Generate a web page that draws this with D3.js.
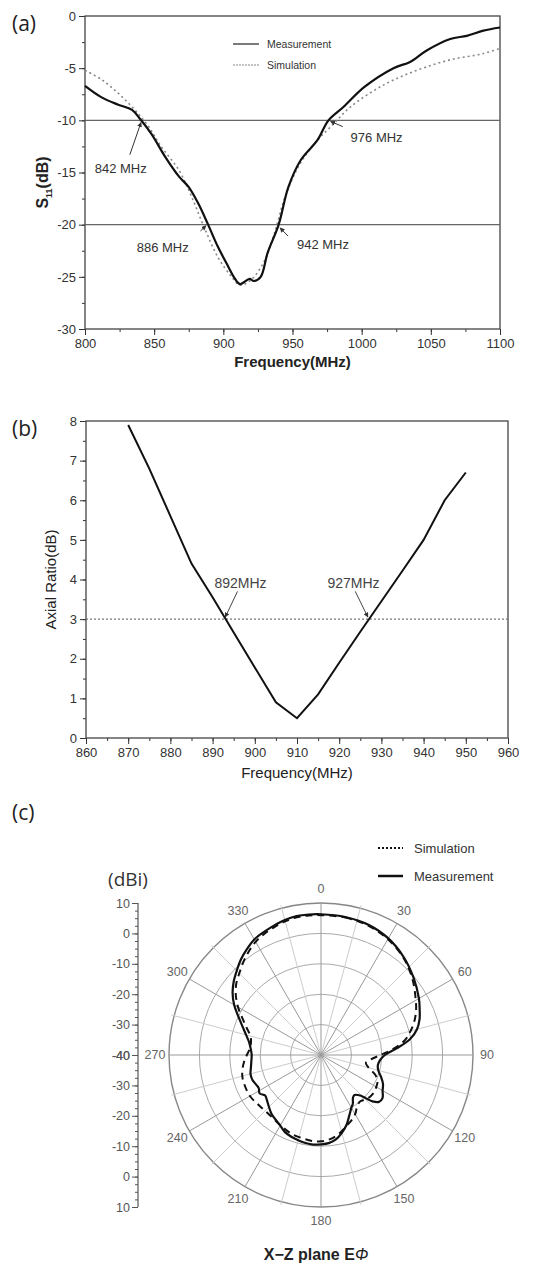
<!DOCTYPE html>
<html>
<head>
<meta charset="utf-8">
<script src="https://cdn.jsdelivr.net/npm/d3@7"></script>
<style>
  body { margin: 0; background: #fff; }
  svg { font-family: "Liberation Sans", Arial, sans-serif; }
</style>
</head>
<body>
<svg id="chart" width="534" height="1266"></svg>
<script>
// (a) S11
const s11MeasFreq = [800, 812, 824, 834, 840, 848, 858, 868, 875, 882, 889, 896, 903.5, 908, 912, 919, 922, 927, 932, 940, 947, 956, 968, 976, 987, 1002, 1023, 1035, 1047, 1064, 1076, 1088, 1100]
const s11MeasDb = [-6.7, -7.8, -8.5, -9.0, -9.9, -11.3, -13.5, -15.4, -16.4, -18, -20, -22.1, -24, -25.1, -25.7, -25.2, -25.4, -25, -22.7, -20, -16.4, -13.8, -11.9, -10, -8.7, -6.8, -5, -4.4, -3.3, -2.2, -1.9, -1.4, -1.1]
const s11SimFreq = [800, 812, 824, 836, 846, 855, 868, 877, 886, 896, 906, 912, 920, 930, 937, 944, 954, 966, 980, 992, 1016, 1040, 1064, 1088, 1100]
const s11SimDb = [-5.2, -6.1, -7.4, -9.0, -10.6, -12.5, -14.8, -17.3, -20.2, -23.1, -25, -25.8, -25.3, -23.4, -20.8, -17.6, -14.5, -12.2, -10.3, -8.7, -6.6, -5.2, -4.2, -3.6, -3.1]
const s11RefLines = [-10, -20]
const s11XTicks = [800, 850, 900, 950, 1000, 1050, 1100]
const s11YTicks = [0, -5, -10, -15, -20, -25, -30]
const s11Notes = [
  { text: '842 MHz', tx: 807, ty: -14.6, from: [832.4, -13.3], to: [840.5, -10.2] },
  { text: '976 MHz', tx: 992, ty: -11.6, from: [986.3, -10.6], to: [977.5, -10.1] },
  { text: '886 MHz', tx: 837.4, ty: -22.1, from: [883.5, -20.6], to: [887.5, -20.1] },
  { text: '942 MHz', tx: 953.2, ty: -21.9, from: [946.8, -21.1], to: [941, -20.3] }
]

// (b) axial ratio
const arFreq = [870, 875, 880, 885, 890, 895, 900, 905, 910, 915, 920, 925, 930, 935, 940, 945, 950]
const arDb = [7.9, 6.8, 5.6, 4.4, 3.55, 2.66, 1.78, 0.9, 0.5, 1.1, 1.9, 2.68, 3.45, 4.22, 5.0, 6.0, 6.7]
const arRefLine = 3
const arXTicks = [860, 870, 880, 890, 900, 910, 920, 930, 940, 950, 960]
const arYTicks = [0, 1, 2, 3, 4, 5, 6, 7, 8]
const arNotes = [
  { text: '892MHz', tx: 896.6, ty: 3.9, from: [895.9, 3.7], to: [893, 3.05] },
  { text: '927MHz', tx: 923.4, ty: 3.9, from: [923.8, 3.7], to: [926.8, 3.05] }
]

// (c) radiation pattern, X-Z plane
const measAngle = [0, 10, 20, 30, 40, 50, 60, 65, 70, 75, 80, 85, 90, 95, 100, 105, 110, 115, 120, 125, 129, 132, 136, 140, 143, 147, 150, 155, 160, 165, 170, 175, 180, 185, 190, 195, 200, 205, 210, 215, 220, 225, 230, 234, 238, 242, 245, 250, 255, 260, 265, 270, 275, 280, 285, 290, 295, 300, 305, 310, 315, 320, 325, 330, 335, 340, 345, 350, 355]
const measGain = [6.3, 6.1, 5.6, 4.3, 2.2, -0.3, -2.8, -4.2, -5.5, -7.3, -10.3, -15, -19, -20.5, -21, -20.5, -19, -17.5, -16.6, -15.3, -15.5, -17.2, -21.5, -22.8, -22.5, -20.8, -20, -18, -15.5, -13.5, -11.8, -10.9, -10.6, -10.4, -10.6, -11, -11.4, -12, -13.2, -14, -14.7, -15.8, -16.8, -17.3, -16.2, -16.8, -16.6, -16, -16, -16.6, -17, -17.2, -16.8, -16, -14.5, -12.5, -10, -7, -4.5, -2.5, -0.8, 1.0, 2.5, 3.9, 4.6, 5.3, 6.0, 6.4, 6.4]
const simAngle = [0, 10, 20, 30, 40, 50, 60, 65, 70, 75, 80, 85, 90, 95, 100, 105, 110, 115, 120, 125, 130, 135, 140, 145, 150, 155, 160, 165, 170, 175, 180, 185, 190, 200, 210, 220, 230, 240, 250, 255, 260, 265, 270, 275, 280, 285, 290, 295, 300, 305, 310, 315, 320, 325, 330, 335, 340, 345, 350, 355]
const simGain = [6.0, 5.9, 5.3, 4.0, 2.0, -0.8, -4.0, -5.5, -7.3, -9.5, -12, -16, -20.4, -23.5, -25, -23.8, -21, -19.5, -19, -18.7, -18.8, -19.3, -20, -19.3, -17.5, -16.3, -15.3, -14, -12.8, -12, -11.6, -11.5, -11.8, -12.3, -13.3, -14, -13.8, -13, -13, -13.2, -13.8, -14.6, -15.6, -16.5, -16.6, -16, -14, -11.5, -8.5, -5.8, -3.6, -2, -0.2, 1.5, 3.0, 4.0, 4.8, 5.5, 6.0, 6.1]
const polarRings = [-30, -20, -10, 0, 10]
const polarSpokes = [0, 30, 60, 90, 120, 150, 180, 210, 240, 270, 300, 330]
const polarMinorSpokes = [15, 45, 75, 105, 135, 165, 195, 225, 255, 285, 315, 345]
const polarAxisTicks = [10, 0, -10, -20, -30, -40]

const svg = d3.select('#chart')
const ink = '#222'

svg.append('marker')
  .attr('id', 'arrow')
  .attr('viewBox', '0 0 10 10')
  .attr('refX', 9).attr('refY', 5)
  .attr('markerWidth', 5).attr('markerHeight', 5)
  .attr('orient', 'auto')
  .append('path')
  .attr('d', 'M0,0 L10,5 L0,10 z')
  .attr('fill', '#333')

function panelLabel(text, x, y) {
  svg.append('text').text(text)
    .attr('x', x).attr('y', y)
    .attr('font-family', '"Open Sans", sans-serif')
    .attr('font-size', 21).attr('fill', ink)
}

function styleAxis(g, size) {
  g.select('.domain').remove()
  g.selectAll('line').attr('stroke', '#333')
  g.selectAll('text').attr('font-size', size).attr('fill', '#333')
    .attr('font-family', '"Liberation Sans", Arial, sans-serif')
}

// ---------- (a) ----------
const a = { left: 85, right: 500, top: 16, bottom: 329 }
const xA = d3.scaleLinear().domain([800, 1100]).range([a.left, a.right])
const yA = d3.scaleLinear().domain([-30, 0]).range([a.bottom, a.top])

panelLabel('(a)', 12, 31)

const gA = svg.append('g')
gA.append('g').attr('transform', `translate(${a.left},0)`)
  .call(d3.axisLeft(yA).tickValues(d3.range(-30, 0.1, 2.5)).tickSize(3).tickFormat(''))
  .call(g => styleAxis(g, 13))
gA.append('g').attr('transform', `translate(${a.left},0)`)
  .call(d3.axisLeft(yA).tickValues(s11YTicks).tickSize(6).tickPadding(3).tickFormat(d => String(d)))
  .call(g => styleAxis(g, 13))
gA.append('g').attr('transform', `translate(0,${a.bottom})`)
  .call(d3.axisBottom(xA).tickValues(d3.range(800, 1101, 25)).tickSize(3).tickFormat(''))
  .call(g => styleAxis(g, 13))
gA.append('g').attr('transform', `translate(0,${a.bottom})`)
  .call(d3.axisBottom(xA).tickValues(s11XTicks).tickSize(6).tickPadding(4).tickFormat(d => String(d)))
  .call(g => styleAxis(g, 13))

gA.append('rect')
  .attr('x', a.left).attr('y', a.top)
  .attr('width', a.right - a.left).attr('height', a.bottom - a.top)
  .attr('fill', 'none').attr('stroke', '#444').attr('stroke-width', 1.3)

gA.selectAll('.ref')
  .data(s11RefLines)
  .enter()
  .append('line')
  .attr('x1', a.left).attr('x2', a.right)
  .attr('y1', d => yA(d)).attr('y2', d => yA(d))
  .attr('stroke', '#666').attr('stroke-width', 1.3)

const lineA = d3.line().x(d => xA(d[0])).y(d => yA(d[1])).curve(d3.curveCatmullRom)
gA.append('path')
  .datum(s11SimFreq.map((f, i) => [f, s11SimDb[i]]))
  .attr('d', lineA)
  .attr('fill', 'none').attr('stroke', '#888').attr('stroke-width', 1.6)
  .attr('stroke-dasharray', '2,3')
gA.append('path')
  .datum(s11MeasFreq.map((f, i) => [f, s11MeasDb[i]]))
  .attr('d', lineA)
  .attr('fill', 'none').attr('stroke', '#111').attr('stroke-width', 2.2)

s11Notes.forEach(n => {
  gA.append('text').text(n.text)
    .attr('x', xA(n.tx)).attr('y', yA(n.ty) + 5)
    .attr('font-size', 13).attr('fill', '#333')
  gA.append('line')
    .attr('x1', xA(n.from[0])).attr('y1', yA(n.from[1]))
    .attr('x2', xA(n.to[0])).attr('y2', yA(n.to[1]))
    .attr('stroke', '#333').attr('stroke-width', 1)
    .attr('marker-end', 'url(#arrow)')
})

// legend (a)
const legA = gA.append('g').attr('transform', 'translate(233,44)')
legA.append('line').attr('x1', 0).attr('x2', 26).attr('y1', 0).attr('y2', 0)
  .attr('stroke', '#222').attr('stroke-width', 1.2)
legA.append('text').text('Measurement').attr('x', 34).attr('y', 4)
  .attr('font-size', 10.5).attr('fill', '#333')
legA.append('line').attr('x1', 0).attr('x2', 26).attr('y1', 21).attr('y2', 21)
  .attr('stroke', '#888').attr('stroke-width', 1).attr('stroke-dasharray', '2,1')
legA.append('text').text('Simulation').attr('x', 34).attr('y', 25)
  .attr('font-size', 10.5).attr('fill', '#333')

gA.append('text').text('Frequency(MHz)')
  .attr('x', (a.left + a.right) / 2).attr('y', 367)
  .attr('text-anchor', 'middle').attr('font-size', 15).attr('font-weight', 'bold').attr('fill', '#222')
const yTitleA = gA.append('text')
  .attr('transform', `translate(48,${(a.top + a.bottom) / 2 + 10}) rotate(-90)`)
  .attr('text-anchor', 'middle').attr('font-size', 16).attr('font-weight', 'bold').attr('fill', '#222')
yTitleA.append('tspan').text('S')
yTitleA.append('tspan').text('11').attr('font-size', 9).attr('dy', 4)
yTitleA.append('tspan').text('(dB)').attr('dy', -4)

// ---------- (b) ----------
const b = { left: 86, right: 508, top: 421, bottom: 738 }
const xB = d3.scaleLinear().domain([860, 960]).range([b.left, b.right])
const yB = d3.scaleLinear().domain([0, 8]).range([b.bottom, b.top])

panelLabel('(b)', 12, 436)

const gB = svg.append('g')
gB.append('g').attr('transform', `translate(${b.left},0)`)
  .call(d3.axisLeft(yB).tickValues(d3.range(0, 8.01, 0.5)).tickSize(3).tickFormat(''))
  .call(g => styleAxis(g, 13))
gB.append('g').attr('transform', `translate(${b.left},0)`)
  .call(d3.axisLeft(yB).tickValues(arYTicks).tickSize(6).tickPadding(3).tickFormat(d => String(d)))
  .call(g => styleAxis(g, 13))
gB.append('g').attr('transform', `translate(0,${b.bottom})`)
  .call(d3.axisBottom(xB).tickValues(d3.range(860, 961, 5)).tickSize(3).tickFormat(''))
  .call(g => styleAxis(g, 13))
gB.append('g').attr('transform', `translate(0,${b.bottom})`)
  .call(d3.axisBottom(xB).tickValues(arXTicks).tickSize(6).tickPadding(4).tickFormat(d => String(d)))
  .call(g => styleAxis(g, 13))

gB.append('rect')
  .attr('x', b.left).attr('y', b.top)
  .attr('width', b.right - b.left).attr('height', b.bottom - b.top)
  .attr('fill', 'none').attr('stroke', '#444').attr('stroke-width', 1.3)

gB.append('line')
  .attr('x1', b.left).attr('x2', b.right)
  .attr('y1', yB(arRefLine)).attr('y2', yB(arRefLine))
  .attr('stroke', '#777').attr('stroke-width', 1.2).attr('stroke-dasharray', '2,2')

gB.append('path')
  .datum(arFreq.map((f, i) => [f, arDb[i]]))
  .attr('d', d3.line().x(d => xB(d[0])).y(d => yB(d[1])))
  .attr('fill', 'none').attr('stroke', '#111').attr('stroke-width', 2)

arNotes.forEach(n => {
  gB.append('text').text(n.text)
    .attr('x', xB(n.tx)).attr('y', yB(n.ty) + 5)
    .attr('text-anchor', 'middle').attr('font-size', 14).attr('fill', '#444')
  gB.append('line')
    .attr('x1', xB(n.from[0])).attr('y1', yB(n.from[1]))
    .attr('x2', xB(n.to[0])).attr('y2', yB(n.to[1]))
    .attr('stroke', '#444').attr('stroke-width', 1)
    .attr('marker-end', 'url(#arrow)')
})

gB.append('text').text('Frequency(MHz)')
  .attr('x', (b.left + b.right) / 2).attr('y', 778)
  .attr('text-anchor', 'middle').attr('font-size', 15).attr('fill', '#222')
gB.append('text').text('Axial Ratio(dB)')
  .attr('transform', `translate(56,${(b.top + b.bottom) / 2}) rotate(-90)`)
  .attr('text-anchor', 'middle').attr('font-size', 15).attr('fill', '#222')

// ---------- (c) ----------
const cx = 321, cy = 1055, R = 152
const rC = d3.scaleLinear().domain([-40, 10]).range([0, R])
const toRad = deg => deg * Math.PI / 180

panelLabel('(c)', 12, 820)

const gC = svg.append('g').attr('transform', `translate(${cx},${cy})`)

gC.selectAll('.ring')
  .data(polarRings)
  .enter()
  .append('circle')
  .attr('r', d => rC(d))
  .attr('fill', 'none')
  .attr('stroke', d => d === 10 ? '#888' : '#aaa')
  .attr('stroke-width', d => d === 10 ? 1.4 : 1)

gC.selectAll('.minor-spoke')
  .data(polarMinorSpokes)
  .enter()
  .append('line')
  .attr('x1', 0).attr('y1', 0)
  .attr('x2', d => Math.sin(toRad(d)) * (R + 3))
  .attr('y2', d => -Math.cos(toRad(d)) * (R + 3))
  .attr('stroke', '#ccc').attr('stroke-width', 1)

gC.selectAll('.spoke')
  .data(polarSpokes)
  .enter()
  .append('line')
  .attr('x1', 0).attr('y1', 0)
  .attr('x2', d => Math.sin(toRad(d)) * R)
  .attr('y2', d => -Math.cos(toRad(d)) * R)
  .attr('stroke', '#999').attr('stroke-width', 1)

gC.selectAll('.angle-label')
  .data(polarSpokes)
  .enter()
  .append('text')
  .text(d => d)
  .attr('x', d => Math.sin(toRad(d)) * 166)
  .attr('y', d => -Math.cos(toRad(d)) * 166 + 4)
  .attr('text-anchor', 'middle')
  .attr('font-size', 12.5).attr('fill', '#666')

const radial = d3.lineRadial()
  .angle(d => toRad(d[0]))
  .radius(d => rC(d[1]))
  .curve(d3.curveCatmullRomClosed.alpha(0.5))

gC.append('path')
  .datum(simAngle.map((t, i) => [t, simGain[i]]))
  .attr('d', radial)
  .attr('fill', 'none').attr('stroke', '#111').attr('stroke-width', 2)
  .attr('stroke-dasharray', '7,5')
gC.append('path')
  .datum(measAngle.map((t, i) => [t, measGain[i]]))
  .attr('d', radial)
  .attr('fill', 'none').attr('stroke', '#111').attr('stroke-width', 2.2)

// mirrored radial axis on the left
const axisX = 138
const upper = d3.scaleLinear().domain([-40, 10]).range([cy, cy - R])
const lower = d3.scaleLinear().domain([-40, 10]).range([cy, cy + R])
const gAx = svg.append('g')
gAx.append('line').attr('x1', axisX).attr('x2', axisX)
  .attr('y1', cy - R).attr('y2', cy + R).attr('stroke', '#555').attr('stroke-width', 1.2)
;[upper, lower].forEach(sc => {
  gAx.append('g').attr('transform', `translate(${axisX},0)`)
    .call(d3.axisLeft(sc).tickValues(d3.range(-40, 10.01, 2.5)).tickSize(3).tickFormat(''))
    .call(g => styleAxis(g, 12.5))
  gAx.append('g').attr('transform', `translate(${axisX},0)`)
    .call(d3.axisLeft(sc).tickValues(polarAxisTicks).tickSize(6).tickPadding(2).tickFormat(d => String(d)))
    .call(g => styleAxis(g, 12.5))
})
gAx.selectAll('line').attr('stroke', '#555')
gAx.selectAll('text').attr('fill', '#555')

svg.append('text').text('(dBi)')
  .attr('x', 128).attr('y', 886)
  .attr('text-anchor', 'middle')
  .attr('font-family', '"Open Sans", sans-serif')
  .attr('font-size', 19).attr('fill', '#333')

// legend (c)
const legC = svg.append('g').attr('transform', 'translate(378,848)')
legC.append('line').attr('x1', 0).attr('x2', 25).attr('y1', 0).attr('y2', 0)
  .attr('stroke', '#111').attr('stroke-width', 2).attr('stroke-dasharray', '2,2')
legC.append('text').text('Simulation').attr('x', 36).attr('y', 5)
  .attr('font-size', 13).attr('fill', '#333')
legC.append('line').attr('x1', 0).attr('x2', 25).attr('y1', 28).attr('y2', 28)
  .attr('stroke', '#111').attr('stroke-width', 2.5)
legC.append('text').text('Measurement').attr('x', 36).attr('y', 33)
  .attr('font-size', 13).attr('fill', '#333')

const titleC = svg.append('text')
  .attr('x', 316).attr('y', 1260)
  .attr('text-anchor', 'middle')
  .attr('font-size', 16).attr('font-weight', 'bold').attr('fill', '#222')
titleC.append('tspan').text('X\u2212Z plane E')
titleC.append('tspan').text('\u03A6').attr('font-style', 'italic').attr('font-weight', 'normal')
</script>
</body>
</html>
